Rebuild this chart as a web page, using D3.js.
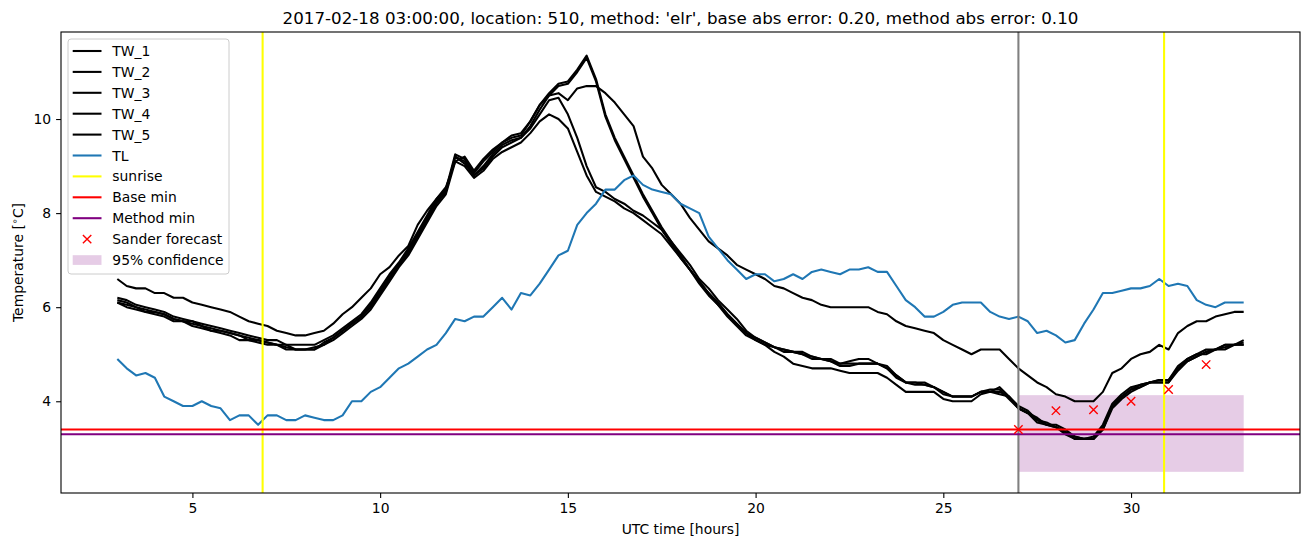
<!DOCTYPE html>
<html>
<head>
<meta charset="utf-8">
<script src="https://cdn.jsdelivr.net/npm/d3@7"></script>
<style>
body { margin: 0; background: #fff; }
svg { display: block; font-family: "DejaVu Sans", sans-serif; }
</style>
</head>
<body>
<svg id="chart"></svg>
<script>
// time grid: 03:00 .. 33:00, every 15 min
var hours = d3.range(121).map(function(i){ return 3 + i * 0.25; });

var tw1 = [
  6.2, 6.15, 6.05, 6.0, 5.95, 5.9, 5.8, 5.75,
  5.7, 5.65, 5.6, 5.55, 5.5, 5.45, 5.4, 5.35,
  5.3, 5.3, 5.2, 5.2, 5.2, 5.2, 5.3, 5.4,
  5.55, 5.7, 5.85, 6.1, 6.4, 6.7, 6.95, 7.25,
  7.6, 7.95, 8.3, 8.5, 9.25, 9.15, 8.85, 9.1,
  9.3, 9.5, 9.6, 9.65, 9.95, 10.3, 10.55, 10.75,
  10.8, 11.05, 11.35, 10.85, 10.1, 9.6, 9.2, 8.8,
  8.4, 8.05, 7.7, 7.4, 7.1, 6.8, 6.55, 6.3,
  6.1, 5.85, 5.65, 5.45, 5.35, 5.25, 5.15, 5.1,
  5.05, 5.0, 4.95, 4.9, 4.9, 4.8, 4.85, 4.9,
  4.9, 4.8, 4.75, 4.55, 4.4, 4.4, 4.4, 4.3,
  4.2, 4.1, 4.1, 4.1, 4.2, 4.2, 4.3, 4.1,
  3.85, 3.75, 3.6, 3.55, 3.45, 3.35, 3.25, 3.2,
  3.2, 3.45, 3.9, 4.1, 4.25, 4.35, 4.4, 4.45,
  4.45, 4.7, 4.9, 5.0, 5.1, 5.1, 5.2, 5.2,
  5.3
];
var tw2 = [
  6.15, 6.1, 6.0, 5.95, 5.9, 5.85, 5.75, 5.7,
  5.7, 5.6, 5.55, 5.5, 5.45, 5.4, 5.35, 5.3,
  5.25, 5.2, 5.2, 5.1, 5.1, 5.1, 5.25, 5.35,
  5.5, 5.65, 5.8, 6.05, 6.35, 6.65, 6.9, 7.2,
  7.55, 7.9, 8.25, 8.45, 9.2, 9.1, 8.8, 9.0,
  9.25, 9.45, 9.55, 9.6, 9.85, 10.2, 10.5, 10.7,
  10.75, 11.0, 11.3, 10.8, 10.05, 9.55, 9.15, 8.75,
  8.35, 8.0, 7.65, 7.35, 7.05, 6.8, 6.5, 6.25,
  6.05, 5.8, 5.6, 5.4, 5.3, 5.2, 5.15, 5.05,
  5.05, 5.0, 4.9, 4.9, 4.85, 4.8, 4.8, 4.8,
  4.8, 4.8, 4.7, 4.55, 4.4, 4.35, 4.35, 4.3,
  4.2, 4.1, 4.1, 4.1, 4.2, 4.25, 4.25, 4.05,
  3.85, 3.75, 3.65, 3.5, 3.45, 3.35, 3.2, 3.2,
  3.2, 3.4, 3.85, 4.05, 4.2, 4.3, 4.4, 4.4,
  4.4, 4.65, 4.85, 4.95, 5.05, 5.1, 5.15, 5.2,
  5.2
];
var tw3 = [
  6.6, 6.45, 6.4, 6.4, 6.3, 6.3, 6.2, 6.2,
  6.1, 6.05, 6.0, 5.95, 5.9, 5.8, 5.7, 5.65,
  5.6, 5.5, 5.45, 5.4, 5.4, 5.45, 5.5, 5.65,
  5.85, 6.0, 6.2, 6.4, 6.7, 6.85, 7.1, 7.3,
  7.75, 8.05, 8.3, 8.55, 9.1, 9.2, 8.9, 9.15,
  9.35, 9.5, 9.65, 9.7, 9.95, 10.3, 10.5, 10.55,
  10.4, 10.65, 10.7, 10.7, 10.55, 10.35, 10.1, 9.85,
  9.2, 8.95, 8.6, 8.4, 8.2, 7.9, 7.65, 7.4,
  7.25, 7.1, 6.9, 6.8, 6.7, 6.6, 6.45, 6.4,
  6.3, 6.2, 6.15, 6.05, 6.0, 6.0, 6.0, 6.0,
  6.0, 5.9, 5.85, 5.7, 5.6, 5.55, 5.5, 5.45,
  5.3, 5.2, 5.1, 5.0, 5.1, 5.1, 5.1, 4.9,
  4.7, 4.55, 4.4, 4.3, 4.15, 4.1, 4.0, 4.0,
  4.0, 4.2, 4.6, 4.7, 4.9, 5.0, 5.05, 5.2,
  5.1, 5.45, 5.6, 5.7, 5.7, 5.8, 5.85, 5.9,
  5.9
];
var tw4 = [
  6.1, 6.05, 6.0, 5.9, 5.9, 5.85, 5.75, 5.7,
  5.65, 5.6, 5.5, 5.5, 5.45, 5.4, 5.3, 5.3,
  5.25, 5.2, 5.15, 5.1, 5.1, 5.15, 5.2, 5.35,
  5.5, 5.65, 5.8, 6.0, 6.3, 6.6, 6.9, 7.15,
  7.5, 7.85, 8.2, 8.45, 9.2, 9.05, 8.8, 8.95,
  9.2, 9.4, 9.5, 9.6, 9.8, 10.1, 10.4, 10.45,
  10.1, 9.6, 9.0, 8.55, 8.45, 8.3, 8.2, 8.05,
  7.95, 7.8, 7.65, 7.4, 7.15, 6.9, 6.6, 6.4,
  6.15, 5.95, 5.75, 5.5, 5.35, 5.25, 5.15, 5.1,
  5.05, 5.05, 4.95, 4.9, 4.85, 4.75, 4.75, 4.8,
  4.8, 4.8, 4.7, 4.5, 4.4, 4.4, 4.35, 4.3,
  4.15, 4.1, 4.1, 4.1, 4.2, 4.2, 4.2, 4.1,
  3.9, 3.8, 3.6, 3.5, 3.5, 3.4, 3.25, 3.2,
  3.25, 3.5, 3.95, 4.15, 4.3, 4.35, 4.4, 4.45,
  4.45, 4.75, 4.9, 5.0, 5.0, 5.1, 5.2, 5.2,
  5.25
];
var tw5 = [
  6.1, 6.0, 5.95, 5.9, 5.85, 5.8, 5.7, 5.7,
  5.6, 5.55, 5.5, 5.45, 5.4, 5.3, 5.3, 5.25,
  5.2, 5.2, 5.1, 5.1, 5.1, 5.1, 5.2, 5.3,
  5.45, 5.6, 5.75, 5.95, 6.25, 6.55, 6.85, 7.1,
  7.45, 7.8, 8.15, 8.4, 9.1, 9.0, 8.75, 8.9,
  9.15, 9.3, 9.4, 9.5, 9.7, 9.95, 10.1, 10.0,
  9.8, 9.3, 8.8, 8.45, 8.35, 8.25, 8.1, 8.0,
  7.85, 7.7, 7.55, 7.3, 7.05, 6.8, 6.55, 6.3,
  6.05, 5.85, 5.65, 5.45, 5.3, 5.2, 5.05, 4.95,
  4.8, 4.75, 4.7, 4.7, 4.7, 4.65, 4.6, 4.6,
  4.6, 4.6, 4.5, 4.35, 4.2, 4.2, 4.2, 4.2,
  4.05, 4.0, 4.0, 4.0, 4.15, 4.2, 4.15, 4.1,
  3.85, 3.75, 3.55, 3.5, 3.45, 3.3, 3.2, 3.2,
  3.2, 3.4, 3.9, 4.1, 4.25, 4.3, 4.4, 4.4,
  4.4, 4.7, 4.85, 4.95, 5.05, 5.1, 5.1, 5.2,
  5.2
];
var tl = [
  4.9, 4.7, 4.55, 4.6, 4.5, 4.1, 4.0, 3.9,
  3.9, 4.0, 3.9, 3.85, 3.6, 3.7, 3.7, 3.5,
  3.7, 3.7, 3.6, 3.6, 3.7, 3.65, 3.6, 3.6,
  3.7, 4.0, 4.0, 4.2, 4.3, 4.5, 4.7, 4.8,
  4.95, 5.1, 5.2, 5.45, 5.75, 5.7, 5.8, 5.8,
  6.0, 6.2, 5.95, 6.3, 6.25, 6.5, 6.8, 7.1,
  7.2, 7.75, 8.0, 8.2, 8.5, 8.5, 8.7, 8.8,
  8.6, 8.5, 8.45, 8.4, 8.2, 8.1, 8.0, 7.5,
  7.25, 7.0, 6.8, 6.6, 6.7, 6.7, 6.55, 6.6,
  6.7, 6.6, 6.75, 6.8, 6.75, 6.7, 6.8, 6.8,
  6.85, 6.75, 6.75, 6.45, 6.15, 6.0, 5.8, 5.8,
  5.9, 6.05, 6.1, 6.1, 6.1, 5.9, 5.8, 5.75,
  5.8, 5.7, 5.45, 5.5, 5.4, 5.25, 5.3, 5.65,
  5.95, 6.3, 6.3, 6.35, 6.4, 6.4, 6.45, 6.6,
  6.45, 6.5, 6.45, 6.15, 6.05, 6.0, 6.1, 6.1,
  6.1
];

var sunriseHours = [6.87, 30.88];
var nowHour = 27;
var baseMin = 3.4;
var methodMin = 3.3;
var forecastHours = [27, 28, 29, 30, 31, 32];
var forecastTemps = [3.4, 3.8, 3.82, 4.0, 4.25, 4.78];
var confHours = [27, 33];
var confLow = 2.5;
var confHigh = 4.13;

var xTicks = [5, 10, 15, 20, 25, 30];
var yTicks = [4, 6, 8, 10];
var xDomain = [1.5, 34.5];
var yDomain = [2.05, 11.85];

var titleText = "2017-02-18 03:00:00, location: 510, method: 'elr', base abs error: 0.20, method abs error: 0.10";
var legendLabels = ["TW_1", "TW_2", "TW_3", "TW_4", "TW_5", "TL", "sunrise", "Base min", "Method min", "Sander forecast", "95% confidence"];

// figure size & axes box
var size = { width: 1310, height: 547 };
var box = { left: 61, right: 1300, top: 32, bottom: 493 };
var fs = 13.9;

var svg = d3.select("#chart")
  .attr("width", size.width)
  .attr("height", size.height);

var x = d3.scaleLinear().domain(xDomain).range([box.left, box.right]);
var y = d3.scaleLinear().domain(yDomain).range([box.bottom, box.top]);

var line = d3.line()
  .x(function(d){ return x(d[0]); })
  .y(function(d){ return y(d[1]); });

function pairs(vals){
  return hours.map(function(h, i){ return [h, vals[i]]; });
}

// 95% confidence band
svg.append("rect")
  .attr("x", x(confHours[0]))
  .attr("y", y(confHigh))
  .attr("width", x(confHours[1]) - x(confHours[0]))
  .attr("height", y(confLow) - y(confHigh))
  .attr("fill", "purple")
  .attr("fill-opacity", 0.2);

var twAll = [tw1, tw2, tw3, tw4, tw5];
twAll.forEach(function(s){
  svg.append("path")
    .datum(pairs(s))
    .attr("d", line)
    .attr("fill", "none")
    .attr("stroke", "black")
    .attr("stroke-width", 2.08)
    .attr("stroke-linejoin", "round");
});

svg.append("path")
  .datum(pairs(tl))
  .attr("d", line)
  .attr("fill", "none")
  .attr("stroke", "#1f77b4")
  .attr("stroke-width", 2.08)
  .attr("stroke-linejoin", "round");

// current time
svg.append("line")
  .attr("x1", x(nowHour)).attr("x2", x(nowHour))
  .attr("y1", box.top).attr("y2", box.bottom)
  .attr("stroke", "gray")
  .attr("stroke-width", 2.08);

sunriseHours.forEach(function(h){
  svg.append("line")
    .attr("x1", x(h)).attr("x2", x(h))
    .attr("y1", box.top).attr("y2", box.bottom)
    .attr("stroke", "yellow")
    .attr("stroke-width", 2.08);
});

svg.append("line")
  .attr("x1", box.left).attr("x2", box.right)
  .attr("y1", y(baseMin)).attr("y2", y(baseMin))
  .attr("stroke", "red")
  .attr("stroke-width", 2.08);

svg.append("line")
  .attr("x1", box.left).attr("x2", box.right)
  .attr("y1", y(methodMin)).attr("y2", y(methodMin))
  .attr("stroke", "purple")
  .attr("stroke-width", 2.08);

function xMark(g, cx, cy){
  var r = 4.2;
  g.append("path")
    .attr("d", "M" + (cx - r) + "," + (cy - r) + "L" + (cx + r) + "," + (cy + r) +
               "M" + (cx - r) + "," + (cy + r) + "L" + (cx + r) + "," + (cy - r))
    .attr("stroke", "red")
    .attr("stroke-width", 1.4)
    .attr("fill", "none");
}

forecastHours.forEach(function(h, i){
  xMark(svg, x(h), y(forecastTemps[i]));
});

// axes
var xAxis = d3.axisBottom(x).tickValues(xTicks).tickSize(4.9).tickPadding(4.9);
var yAxis = d3.axisLeft(y).tickValues(yTicks).tickSize(4.9).tickPadding(4.9);

var gx = svg.append("g")
  .attr("transform", "translate(0," + box.bottom + ")")
  .call(xAxis);
var gy = svg.append("g")
  .attr("transform", "translate(" + box.left + ",0)")
  .call(yAxis);

[gx, gy].forEach(function(g){
  g.select(".domain").remove();
  g.selectAll("line").attr("stroke", "black").attr("stroke-width", 1.1);
  g.selectAll("text")
    .attr("fill", "black")
    .style("font-family", "DejaVu Sans")
    .style("font-size", fs + "px");
});

svg.append("rect")
  .attr("x", box.left).attr("y", box.top)
  .attr("width", box.right - box.left)
  .attr("height", box.bottom - box.top)
  .attr("fill", "none")
  .attr("stroke", "black")
  .attr("stroke-width", 1.1);

svg.append("text")
  .attr("x", (box.left + box.right) / 2)
  .attr("y", 24)
  .attr("text-anchor", "middle")
  .style("font-size", "16.7px")
  .text(titleText);

svg.append("text")
  .attr("x", (box.left + box.right) / 2)
  .attr("y", 534)
  .attr("text-anchor", "middle")
  .style("font-size", fs + "px")
  .text("UTC time [hours]");

var ylab = svg.append("text")
  .attr("transform", "translate(23," + ((box.top + box.bottom) / 2) + ") rotate(-90)")
  .attr("text-anchor", "middle")
  .style("font-size", fs + "px");
ylab.append("tspan").text("Temperature [");
ylab.append("tspan").attr("dy", -5).style("font-size", "9.7px").text("\u2218");
ylab.append("tspan").attr("dy", 5).text("C]");

// legend
var lg = svg.append("g");
var lgTop = 39, lgLeft = 68, rowH = 20.9;
lg.append("rect")
  .attr("x", lgLeft).attr("y", lgTop)
  .attr("width", 161).attr("height", 235)
  .attr("rx", 3)
  .attr("fill", "white").attr("fill-opacity", 0.8)
  .attr("stroke", "#cccccc").attr("stroke-width", 1);

var handleColors = ["black", "black", "black", "black", "black", "#1f77b4", "yellow", "red", "purple"];
legendLabels.forEach(function(label, i){
  var cy = 51 + i * rowH;
  if (i < handleColors.length) {
    lg.append("line")
      .attr("x1", 72.7).attr("x2", 101.5)
      .attr("y1", cy).attr("y2", cy)
      .attr("stroke", handleColors[i])
      .attr("stroke-width", 2.08);
  } else if (label === "Sander forecast") {
    xMark(lg, 87.1, cy);
  } else {
    lg.append("rect")
      .attr("x", 72.7).attr("y", cy - 4.8)
      .attr("width", 28.8).attr("height", 9.7)
      .attr("fill", "purple").attr("fill-opacity", 0.2);
  }
  lg.append("text")
    .attr("x", 112.3).attr("y", cy)
    .attr("dy", "0.36em")
    .style("font-size", fs + "px")
    .text(label);
});
</script>
</body>
</html>
